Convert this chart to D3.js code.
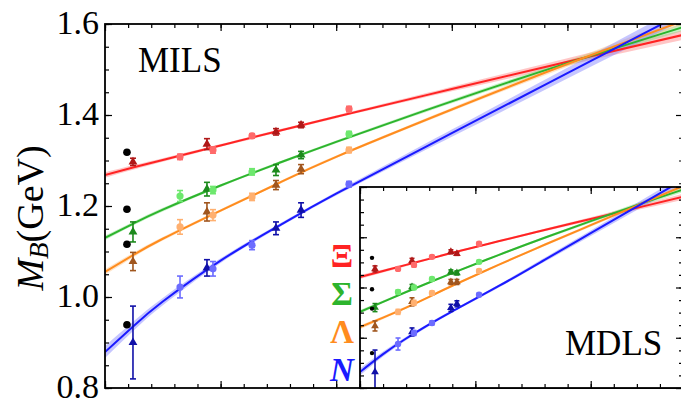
<!DOCTYPE html>
<html><head><meta charset="utf-8">
<script src="https://cdn.jsdelivr.net/npm/d3@7"></script>
<style>body{margin:0;background:#fff}svg{display:block}</style>
</head><body>
<svg id="c" width="681" height="406"></svg>
<script>
// ---------- data ----------
const baryons = ["Xi", "Sigma", "Lambda", "N"];
const legendLabels = ["Ξ", "Σ", "Λ", "N"];
const physicalMass = [1.318, 1.193, 1.116, 0.939];
const yTicksMajor = [0.8, 1.0, 1.2, 1.4, 1.6];
const yTickLabels = ["0.8", "1.0", "1.2", "1.4", "1.6"];

// MILS (main panel), x = m_pi^2 (GeV^2)
const milsPhysX = 0.019;
const milsFitX = [0, 0.025, 0.05, 0.1, 0.15, 0.2, 0.3, 0.4, 0.5];
const milsFitXi     = [1.268, 1.285, 1.301, 1.333, 1.365, 1.396, 1.457, 1.517, 1.576];
const milsFitSigma  = [1.130, 1.162, 1.192, 1.245, 1.294, 1.341, 1.430, 1.514, 1.593];
const milsFitLambda = [1.055, 1.093, 1.128, 1.190, 1.250, 1.308, 1.412, 1.512, 1.607];
const milsFitN      = [0.879, 0.937, 0.990, 1.080, 1.156, 1.227, 1.360, 1.492, 1.624];
const milsBandXi     = [0.006, 0.005, 0.004, 0.003, 0.003, 0.003, 0.005, 0.008, 0.011];
const milsBandSigma  = [0.005, 0.004, 0.004, 0.003, 0.003, 0.003, 0.004, 0.006, 0.008];
const milsBandLambda = [0.006, 0.005, 0.004, 0.003, 0.003, 0.003, 0.004, 0.006, 0.008];
const milsBandN      = [0.013, 0.010, 0.008, 0.005, 0.004, 0.004, 0.008, 0.012, 0.016];
const milsPointX = [0.0242, 0.0649, 0.0882, 0.0934, 0.1272, 0.1479, 0.1696, 0.2111];
const pointKind  = ["tri", "circ", "tri", "circ", "circ", "tri", "tri", "circ"];
const milsXi        = [1.297, 1.308, 1.336, 1.323, 1.354, 1.363, 1.378, 1.413];
const milsXiErr     = [0.008, 0.006, 0.012, 0.007, 0.005, 0.007, 0.006, 0.006];
const milsSigma     = [1.143, 1.222, 1.237, 1.235, 1.275, 1.279, 1.312, 1.358];
const milsSigmaErr  = [0.022, 0.012, 0.015, 0.008, 0.007, 0.012, 0.008, 0.006];
const milsLambda    = [1.078, 1.154, 1.187, 1.180, 1.220, 1.246, 1.281, 1.323];
const milsLambdaErr = [0.020, 0.016, 0.020, 0.012, 0.008, 0.010, 0.010, 0.006];
const milsN         = [0.900, 1.022, 1.064, 1.062, 1.114, 1.151, 1.191, 1.248];
const milsNErr      = [0.080, 0.024, 0.018, 0.016, 0.010, 0.014, 0.016, 0.006];

// MDLS (inset)
const mdlsPhysX = 0.026;
const mdlsFitX = [0, 0.05, 0.1, 0.15, 0.2, 0.3, 0.4, 0.5, 0.6, 0.7];
const mdlsFitXi     = [1.242, 1.266, 1.290, 1.314, 1.338, 1.384, 1.429, 1.473, 1.517, 1.561];
const mdlsFitSigma  = [1.103, 1.143, 1.182, 1.220, 1.257, 1.329, 1.398, 1.464, 1.528, 1.590];
const mdlsFitLambda = [1.042, 1.080, 1.120, 1.163, 1.207, 1.290, 1.370, 1.448, 1.526, 1.604];
const mdlsFitN      = [0.864, 0.935, 0.997, 1.053, 1.105, 1.205, 1.310, 1.416, 1.522, 1.628];
const mdlsBandXi     = [0.008, 0.006, 0.005, 0.004, 0.004, 0.004, 0.005, 0.007, 0.009, 0.012];
const mdlsBandSigma  = [0.007, 0.005, 0.004, 0.004, 0.004, 0.004, 0.005, 0.006, 0.008, 0.010];
const mdlsBandLambda = [0.008, 0.006, 0.005, 0.004, 0.004, 0.004, 0.005, 0.006, 0.008, 0.010];
const mdlsBandN      = [0.014, 0.010, 0.007, 0.006, 0.005, 0.006, 0.008, 0.011, 0.014, 0.018];
const mdlsPointX = [0.0325, 0.0824, 0.1127, 0.117, 0.156, 0.197, 0.210, 0.258];
const mdlsXi        = [1.274, 1.274, 1.306, 1.290, 1.322, 1.342, 1.334, 1.374];
const mdlsXiErr     = [0.012, 0.006, 0.010, 0.008, 0.006, 0.008, 0.006, 0.006];
const mdlsSigma     = [1.120, 1.182, 1.202, 1.200, 1.234, 1.262, 1.258, 1.302];
const mdlsSigmaErr  = [0.016, 0.008, 0.010, 0.008, 0.006, 0.008, 0.008, 0.006];
const mdlsLambda    = [1.047, 1.103, 1.143, 1.139, 1.178, 1.222, 1.222, 1.266];
const mdlsLambdaErr = [0.020, 0.010, 0.016, 0.010, 0.008, 0.010, 0.010, 0.006];
const mdlsN         = [0.864, 0.975, 1.023, 1.019, 1.059, 1.119, 1.135, 1.171];
const mdlsNErr      = [0.087, 0.024, 0.016, 0.010, 0.008, 0.014, 0.012, 0.006];

// ---------- styles ----------
const lineColor  = ["#ff2323", "#2db42d", "#ff8c1e", "#1a1aff"];
const bandColor  = ["#ff8080", "#80e080", "#ffc080", "#8080ff"];
const darkColor  = ["#b01818", "#1c8a1c", "#a0561e", "#1010a8"];
const lightColor = ["#ff6a6a", "#6ee86e", "#ffb070", "#6c6cff"];
const serif = "'Liberation Serif','Times New Roman',serif";

const svg = d3.select("#c");
svg.append("rect").attr("width", 681).attr("height", 406).attr("fill", "#fff");

function panel(opt) {
  const {x, y, fitX, fits, bands, px, vals, errs, physX, big, id} = opt;
  const [x0, x1] = x.range(), [y0, y1] = y.range();
  const g = svg.append("g");
  g.append("rect").attr("x", x0).attr("y", y1).attr("width", x1 - x0).attr("height", y0 - y1)
    .attr("fill", "#fff");
  svg.append("clipPath").attr("id", id).append("rect")
    .attr("x", x0).attr("y", y1).attr("width", x1 - x0).attr("height", y0 - y1);
  const cg = g.append("g").attr("clip-path", `url(#${id})`);
  const area = d3.area().x(d => x(d[0])).y0(d => y(d[1] - d[2])).y1(d => y(d[1] + d[2]))
    .curve(d3.curveNatural);
  const line = d3.line().x(d => x(d[0])).y(d => y(d[1])).curve(d3.curveNatural);
  fits.forEach((f, i) => {
    const pts = fitX.map((xv, j) => [xv, f[j], bands[i][j]]);
    cg.append("path").attr("d", area(pts)).attr("fill", bandColor[i]).attr("opacity", 0.45);
  });
  fits.forEach((f, i) => {
    const pts = fitX.map((xv, j) => [xv, f[j]]);
    cg.append("path").attr("d", line(pts)).attr("fill", "none")
      .attr("stroke", lineColor[i]).attr("stroke-width", 2);
  });
  const cap = big ? 3 : 2.5;
  const r = big ? 3.6 : 3.2;
  const triSize = big ? 34 : 26;
  vals.forEach((v, i) => {
    px.forEach((xv, j) => {
      const tri = pointKind[j] === "tri";
      const c = tri ? darkColor[i] : lightColor[i];
      const X = x(xv), Yt = y(v[j] + errs[i][j]), Yb = y(v[j] - errs[i][j]);
      cg.append("line").attr("x1", X).attr("x2", X).attr("y1", Yt).attr("y2", Yb)
        .attr("stroke", c).attr("stroke-width", 1.6);
      [Yt, Yb].forEach(yy => cg.append("line").attr("x1", X - cap).attr("x2", X + cap)
        .attr("y1", yy).attr("y2", yy).attr("stroke", c).attr("stroke-width", 1.6));
      if (tri) {
        cg.append("path").attr("d", d3.symbol(d3.symbolTriangle, triSize)())
          .attr("transform", `translate(${X},${y(v[j])})`).attr("fill", c);
      } else {
        cg.append("circle").attr("cx", X).attr("cy", y(v[j])).attr("r", r).attr("fill", c);
      }
    });
    cg.append("circle").attr("cx", x(physX)).attr("cy", y(physicalMass[i]))
      .attr("r", big ? 3.8 : 2.2).attr("fill", "#000");
  });
  return g;
}

function ticks(g, x, y, xMinor, xMajor, yMinor, yMajor, sides) {
  const [x0, x1] = x.range(), [y0, y1] = y.range();
  const tk = (axis, tr) => {
    const a = g.append("g").attr("transform", tr).call(axis);
    a.select(".domain").remove();
    a.selectAll("text").remove();
    a.selectAll("line").attr("stroke", "#000").attr("stroke-width", 1.2);
  };
  sides.forEach(s => {
    if (s === "bottom") {
      tk(d3.axisBottom(x).tickValues(xMinor).tickSize(-4), `translate(0,${y0})`);
      tk(d3.axisBottom(x).tickValues(xMajor).tickSize(-7), `translate(0,${y0})`);
    } else if (s === "top") {
      tk(d3.axisTop(x).tickValues(xMinor).tickSize(-4), `translate(0,${y1})`);
      tk(d3.axisTop(x).tickValues(xMajor).tickSize(-7), `translate(0,${y1})`);
    } else if (s === "left") {
      tk(d3.axisLeft(y).tickValues(yMinor).tickSize(-4), `translate(${x0},0)`);
      tk(d3.axisLeft(y).tickValues(yMajor).tickSize(-7), `translate(${x0},0)`);
    } else {
      tk(d3.axisRight(y).tickValues(yMinor).tickSize(-4), `translate(${x1},0)`);
      tk(d3.axisRight(y).tickValues(yMajor).tickSize(-7), `translate(${x1},0)`);
    }
  });
  g.append("rect").attr("x", x0).attr("y", y1).attr("width", x1 - x0).attr("height", y0 - y1)
    .attr("fill", "none").attr("stroke", "#000").attr("stroke-width", 1.8);
}

const yMinor = d3.range(0.8, 1.6001, 0.05).map(v => +v.toFixed(2));

// main panel
const xM = d3.scaleLinear().domain([0, 0.5]).range([105, 683]);
const yM = d3.scaleLinear().domain([0.8, 1.6]).range([388, 24]);
const gM = panel({x: xM, y: yM, fitX: milsFitX,
  fits: [milsFitXi, milsFitSigma, milsFitLambda, milsFitN],
  bands: [milsBandXi, milsBandSigma, milsBandLambda, milsBandN],
  px: milsPointX, vals: [milsXi, milsSigma, milsLambda, milsN],
  errs: [milsXiErr, milsSigmaErr, milsLambdaErr, milsNErr], physX: milsPhysX, big: true, id: "clipM"});
ticks(gM, xM, yM, d3.range(0, 0.5001, 0.02).map(v => +v.toFixed(2)), [0, 0.1, 0.2, 0.3, 0.4, 0.5],
  yMinor, yTicksMajor, ["bottom", "top", "left", "right"]);
gM.append("text").attr("x", 138).attr("y", 72).attr("font-family", serif).attr("font-size", 35)
  .text("MILS");
gM.selectAll(".ylab").data(yTicksMajor).join("text").attr("class", "ylab")
  .attr("x", 99).attr("y", d => yM(d)).attr("dy", "0.3em").attr("text-anchor", "end")
  .attr("font-family", serif).attr("font-size", 34).text((d, i) => yTickLabels[i]);

// inset panel
const xI = d3.scaleLinear().domain([0, 0.7]).range([360, 683]);
const yI = d3.scaleLinear().domain([0.8, 1.6]).range([388, 187]);
const gI = panel({x: xI, y: yI, fitX: mdlsFitX,
  fits: [mdlsFitXi, mdlsFitSigma, mdlsFitLambda, mdlsFitN],
  bands: [mdlsBandXi, mdlsBandSigma, mdlsBandLambda, mdlsBandN],
  px: mdlsPointX, vals: [mdlsXi, mdlsSigma, mdlsLambda, mdlsN],
  errs: [mdlsXiErr, mdlsSigmaErr, mdlsLambdaErr, mdlsNErr], physX: mdlsPhysX, big: false, id: "clipI"});
ticks(gI, xI, yI, d3.range(0, 0.7001, 0.05).map(v => +v.toFixed(2)), [0, 0.25, 0.5],
  yMinor, yTicksMajor, ["bottom", "top", "left", "right"]);
gI.append("text").attr("x", 565).attr("y", 355).attr("font-family", serif).attr("font-size", 35)
  .text("MDLS");

// legend
legendLabels.forEach((t, i) => {
  svg.append("text").attr("x", 342).attr("y", 267 + i * 38).attr("text-anchor", "middle")
    .attr("font-family", serif).attr("font-size", 33).attr("font-weight", "bold")
    .attr("font-style", t === "N" ? "italic" : "normal")
    .attr("fill", lineColor[i]).text(t);
});

// y label
const yl = svg.append("text").attr("transform", "translate(43,218) rotate(-90)")
  .attr("text-anchor", "middle").attr("font-family", serif).attr("font-size", 38);
yl.append("tspan").attr("font-style", "italic").text("M");
yl.append("tspan").attr("font-style", "italic").attr("font-size", 27).attr("dy", 5).text("B");
yl.append("tspan").attr("dy", -5).text("(GeV)");
</script>
</body></html>
